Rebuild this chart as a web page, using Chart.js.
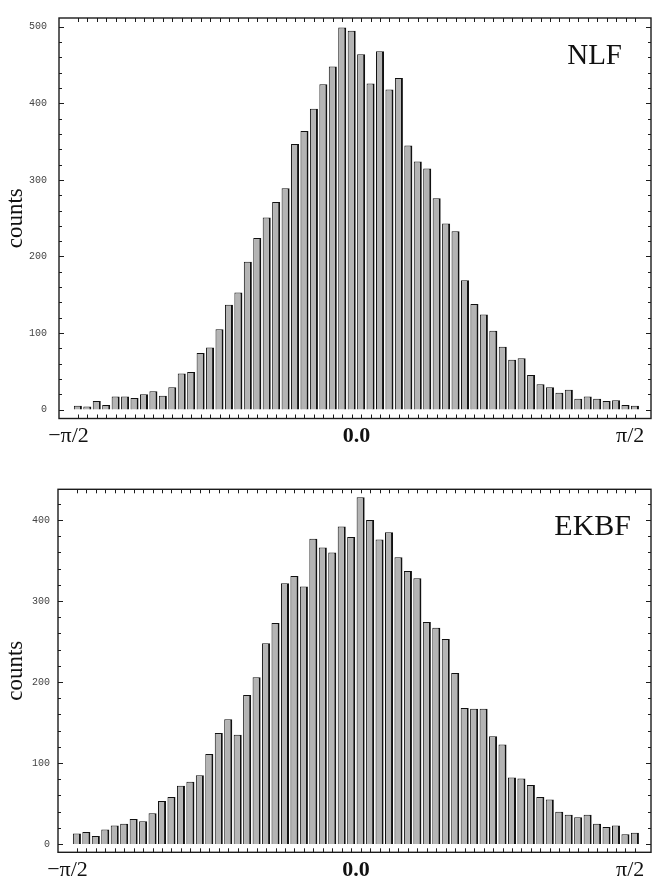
<!DOCTYPE html>
<html>
<head>
<meta charset="utf-8">
<script src="https://cdn.jsdelivr.net/npm/chart.js@4"></script>
<style>
  html, body { margin: 0; padding: 0; background: #fff; }
  #wrap { position: relative; width: 656px; height: 882px; }
  canvas { position: absolute; left: 0; }
  #nlf { top: 0; }
  #ekbf { top: 441px; }
</style>
</head>
<body>
<div id="wrap">
  <canvas id="nlf" width="656" height="460"></canvas>
  <canvas id="ekbf" width="656" height="441"></canvas>
</div>
<script>
// bin centres in degrees (60 bins of 3 deg)
const binCenters = [-88.5, -85.5, -82.5, -79.5, -76.5, -73.5, -70.5, -67.5, -64.5, -61.5,
  -58.5, -55.5, -52.5, -49.5, -46.5, -43.5, -40.5, -37.5, -34.5, -31.5,
  -28.5, -25.5, -22.5, -19.5, -16.5, -13.5, -10.5, -7.5, -4.5, -1.5,
  1.5, 4.5, 7.5, 10.5, 13.5, 16.5, 19.5, 22.5, 25.5, 28.5,
  31.5, 34.5, 37.5, 40.5, 43.5, 46.5, 49.5, 52.5, 55.5, 58.5,
  61.5, 64.5, 67.5, 70.5, 73.5, 76.5, 79.5, 82.5, 85.5, 88.5];

const nlfCounts = [5, 4, 11, 6, 17, 17, 15, 20, 24, 18,
  29, 47, 49, 74, 81, 105, 137, 153, 193, 224,
  251, 271, 289, 347, 364, 393, 425, 448, 499, 495,
  464, 426, 468, 418, 433, 345, 324, 315, 276, 243,
  233, 169, 138, 124, 103, 82, 65, 67, 45, 33,
  29, 22, 26, 14, 17, 14, 11, 12, 6, 5];

const ekbfCounts = [13, 15, 10, 18, 23, 25, 31, 28, 38, 53,
  58, 72, 77, 85, 111, 137, 154, 135, 184, 206,
  248, 273, 322, 331, 318, 377, 366, 360, 392, 379,
  428, 400, 376, 385, 354, 337, 328, 274, 267, 253,
  211, 168, 167, 167, 133, 123, 82, 81, 73, 58,
  55, 40, 36, 33, 36, 25, 21, 23, 12, 14];

const xTickVals = [-91.5, 0, 87];
const xTickLabels = ['\u2212\u03c0/2', '0.0', '\u03c0/2'];
const nlfYTicks = [0, 100, 200, 300, 400, 500];
const ekbfYTicks = [0, 100, 200, 300, 400];

const xMin = -94.5, xMax = 93.6;

// box around the plot with small inward ticks on all four sides
const frameTicks = {
  id: 'frameTicks',
  afterDatasetsDraw(chart) {
    const { ctx, chartArea: a, scales: { x, y } } = chart;
    ctx.save();
    ctx.strokeStyle = '#1c1c1c';
    ctx.lineWidth = 1;
    ctx.beginPath();
    binCenters.forEach(v => {
      const px = Math.round(x.getPixelForValue(v)) + 0.5;
      ctx.moveTo(px, a.top); ctx.lineTo(px, a.top + 4);
      ctx.moveTo(px, a.bottom); ctx.lineTo(px, a.bottom - 4);
    });
    for (let v = 0; v <= y.max; v += 20) {
      const py = Math.round(y.getPixelForValue(v)) + 0.5;
      const len = v % 100 === 0 ? 5 : 3;
      ctx.moveTo(a.left, py); ctx.lineTo(a.left + len, py);
      ctx.moveTo(a.right, py); ctx.lineTo(a.right - len, py);
    }
    ctx.stroke();
    ctx.lineWidth = 1.4;
    ctx.strokeRect(a.left, a.top, a.right - a.left, a.bottom - a.top);
    ctx.restore();
  }
};

const cornerLabel = {
  id: 'cornerLabel',
  afterDraw(chart, args, o) {
    const { ctx, chartArea: a } = chart;
    ctx.save();
    ctx.font = o.size + 'px "Liberation Serif", serif';
    ctx.fillStyle = '#111';
    ctx.textAlign = 'right';
    ctx.textBaseline = 'alphabetic';
    ctx.fillText(o.text, a.right - o.dx, a.top + o.dy);
    ctx.restore();
  }
};

function makeChart(id, counts, cfg) {
  return new Chart(document.getElementById(id), {
    type: 'bar',
    data: {
      datasets: [{
        data: binCenters.map((c, i) => ({ x: c, y: counts[i] })),
        backgroundColor: '#b4b4b4',
        borderColor: '#111',
        borderWidth: { top: 1, left: 1, right: 2, bottom: 0 },
        categoryPercentage: 1,
        barPercentage: 0.85
      }]
    },
    options: {
      responsive: false,
      animation: false,
      layout: { padding: { left: 0, right: 5, top: cfg.padTop, bottom: 0 } },
      plugins: {
        legend: { display: false },
        tooltip: { enabled: false },
        cornerLabel: cfg.label
      },
      scales: {
        x: {
          type: 'linear',
          offset: false,
          min: xMin,
          max: xMax,
          grid: { display: false, drawTicks: false },
          border: { display: false },
          afterBuildTicks: s => { s.ticks = xTickVals.map(v => ({ value: v })); },
          afterFit: s => { s.height = cfg.xHeight; },
          ticks: {
            autoSkip: false,
            maxRotation: 0,
            padding: 5,
            color: '#111',
            font: c => ({ family: '"Liberation Serif", serif', size: 22, weight: c.index === 1 ? 'bold' : 'normal' }),
            callback: (v, i) => xTickLabels[i]
          }
        },
        y: {
          min: cfg.yMin,
          max: cfg.yMax,
          grid: { display: false, drawTicks: false },
          border: { display: false },
          afterBuildTicks: s => { s.ticks = cfg.yTicks.map(v => ({ value: v })); },
          afterFit: s => { s.width = cfg.yWidth; },
          ticks: {
            padding: cfg.yPad,
            color: '#444',
            font: { family: '"Liberation Mono", monospace', size: 10 },
            callback: v => String(v)
          },
          title: {
            display: true,
            text: 'counts',
            color: '#111',
            font: { family: '"Liberation Serif", serif', size: 23 },
            padding: { top: 2, bottom: 0 }
          }
        }
      }
    },
    plugins: [frameTicks, cornerLabel]
  });
}

makeChart('nlf', nlfCounts, {
  padTop: 7, xHeight: 41.5, yWidth: 59, yPad: 12,
  yMin: -11.7, yMax: 511.5, yTicks: nlfYTicks,
  label: { text: 'NLF', size: 29, dx: 29, dy: 46 }
});

makeChart('ekbf', ekbfCounts, {
  padTop: 48.3, xHeight: 29.7, yWidth: 58, yPad: 8,
  yMin: -10.2, yMax: 437.9, yTicks: ekbfYTicks,
  label: { text: 'EKBF', size: 30, dx: 20, dy: 45.7 }
});
</script>
</body>
</html>
